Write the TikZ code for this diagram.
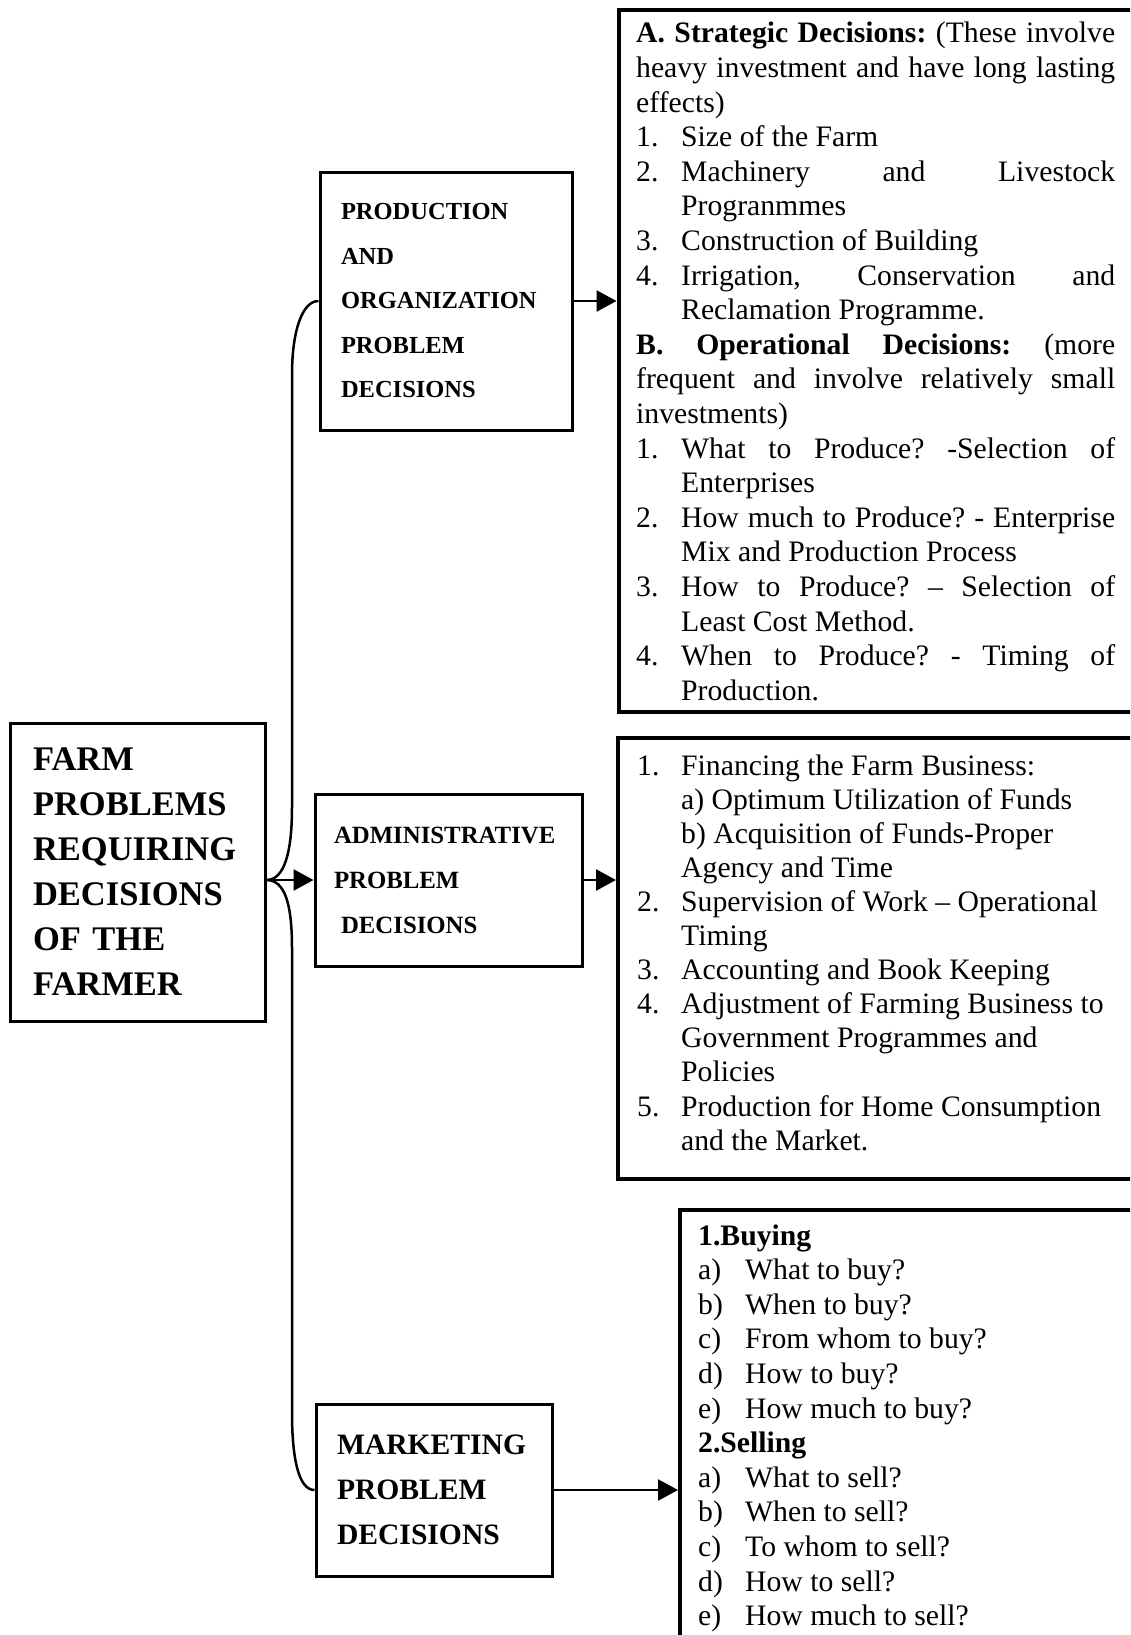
\documentclass[tikz,border=0pt]{standalone}
\usepackage{fontspec}
\setmainfont{Liberation Serif}
\usetikzlibrary{arrows.meta}

\newlength{\labw}
\newcommand{\jl}[1]{\makebox[\linewidth][s]{#1}}
\newcommand{\litem}[2]{\makebox[\labw][l]{#1}#2}
\newcommand{\jitem}[2]{\makebox[\labw][l]{#1}\makebox[\dimexpr\linewidth-\labw\relax][s]{#2}}
\newcommand{\ind}{\hspace*{\labw}}

\begin{document}
\begin{tikzpicture}[x=1pt, y=-1pt,
        probbox/.style={draw, line width=3pt, align=left, inner ysep=0pt},
        listbox/.style={draw, line width=4pt, anchor=north west, inner sep=0pt},
        listtext/.style={anchor=base west, inner sep=0pt, font=\fontsize{29.7pt}{34.6pt}\selectfont},
        arrowline/.style={-{Triangle[length=20pt, width=21pt]}, line width=2.5pt},
        brace/.style={line width=2.5pt}
    ]

    \fill[white] (0,0) rectangle (1130,1635);
    \useasboundingbox (0,0) rectangle (1130,1635);
    \clip (0,0) rectangle (1130,1635);

    % 左侧方框
    \node[probbox, inner xsep=23pt, text width=209pt, minimum height=298pt,
          font=\fontsize{34.5pt}{45pt}\selectfont\bfseries] (main) at (137.5,872)
          {FARM\\ PROBLEMS\\ REQUIRING\\ DECISIONS\\ OF THE\\ FARMER};

    % 中间方框
    \node[probbox, inner xsep=21pt, text width=210pt, minimum height=258pt,
          font=\fontsize{24.5pt}{44.5pt}\selectfont\bfseries] (prod) at (446,301)
          {PRODUCTION\\ AND\\ ORGANIZATION\\ PROBLEM\\ DECISIONS};
    \node[probbox, inner xsep=19pt, text width=229pt, minimum height=172pt,
          font=\fontsize{24.8pt}{45pt}\selectfont\bfseries] (admin) at (448.5,880)
          {ADMINISTRATIVE\\ PROBLEM\\ \hspace*{7pt}DECISIONS};
    \node[probbox, inner xsep=21pt, text width=194pt, minimum height=172pt,
          font=\fontsize{29.6pt}{45pt}\selectfont\bfseries] (mkt) at (434,1490)
          {MARKETING\\ PROBLEM\\ DECISIONS};

    % 右侧方框
    \node[listbox, minimum width=530pt, minimum height=702pt] (strat) at (616.5,8) {};
    \node[listbox, minimum width=530pt, minimum height=441pt] (adminlist) at (616,736) {};
    \node[listbox, minimum width=470pt, minimum height=500pt] (mktlist) at (678,1208) {};

    % 文字
    \node[listtext] (strattxt) at (636,43) {\parbox[t]{479pt}{\setlength{\labw}{45pt}\frenchspacing
        \jl{\textbf{A. Strategic Decisions:} (These involve}\\
        \jl{heavy investment and have long lasting}\\
        effects)\\
        \litem{1.}{Size of the Farm}\\
        \jitem{2.}{Machinery and Livestock}\\
        \ind Progranmmes\\
        \litem{3.}{Construction of Building}\\
        \jitem{4.}{Irrigation, Conservation and}\\
        \ind Reclamation Programme.\\
        \jl{\textbf{B. Operational Decisions:} (more}\\
        \jl{frequent and involve relatively small}\\
        investments)\\
        \jitem{1.}{What to Produce? -Selection of}\\
        \ind Enterprises\\
        \jitem{2.}{How much to Produce? - Enterprise}\\
        \ind Mix and Production Process\\
        \jitem{3.}{How to Produce? -- Selection of}\\
        \ind Least Cost Method.\\
        \jitem{4.}{When to Produce? - Timing of}\\
        \ind Production.}};

    \node[listtext, font=\fontsize{29.7pt}{34.1pt}\selectfont] (admintxt) at (637,775) {\parbox[t]{479pt}{\setlength{\labw}{44pt}\frenchspacing
        \litem{1.}{Financing the Farm Business:}\\
        \ind a) Optimum Utilization of Funds\\
        \ind b) Acquisition of Funds-Proper\\
        \ind Agency and Time\\
        \litem{2.}{Supervision of Work -- Operational}\\
        \ind Timing\\
        \litem{3.}{Accounting and Book Keeping}\\
        \litem{4.}{Adjustment of Farming Business to}\\
        \ind Government Programmes and\\
        \ind Policies\\
        \litem{5.}{Production for Home Consumption}\\
        \ind and the Market.}};

    \node[listtext] (mkttxt) at (698,1245) {\parbox[t]{400pt}{\setlength{\labw}{47pt}\frenchspacing
        \textbf{1.Buying}\\
        \litem{a)}{What to buy?}\\
        \litem{b)}{When to buy?}\\
        \litem{c)}{From whom to buy?}\\
        \litem{d)}{How to buy?}\\
        \litem{e)}{How much to buy?}\\
        \textbf{2.Selling}\\
        \litem{a)}{What to sell?}\\
        \litem{b)}{When to sell?}\\
        \litem{c)}{To whom to sell?}\\
        \litem{d)}{How to sell?}\\
        \litem{e)}{How much to sell?}}};

    % 连线
    \coordinate (junction) at (main.east |- admin.west);
    \coordinate (upper) at (292,375);
    \coordinate (lower) at (292,1413);
    \draw[arrowline] (junction) -- (admin.west);
    \draw[brace] (junction) .. controls +(18,0) and +(0,45) .. (292,807) -- (upper)
        .. controls +(0,-45) and +(-16,0) .. (prod.west);
    \draw[brace] (junction) .. controls +(18,0) and +(0,-45) .. (292,948) -- (lower)
        .. controls +(0,45) and +(-16,0) .. (mkt.west);
    \draw[arrowline] (prod.east) -- (prod.east -| strat.west);
    \draw[arrowline] (admin.east) -- (admin.east -| adminlist.west);
    \draw[arrowline] (mkt.east) -- (mkt.east -| mktlist.west);

\end{tikzpicture}
\end{document}
